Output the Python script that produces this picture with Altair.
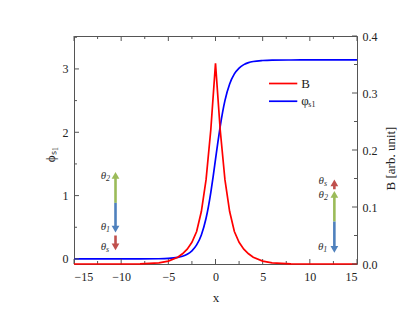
import altair as alt
import pandas as pd

# ---- data ----
x_phi = [-15, -10, -8, -6, -5, -4, -3.5, -3, -2.5, -2, -1.5, -1, -0.75, -0.5, -0.25, 0,
         0.25, 0.5, 0.75, 1, 1.5, 2, 2.5, 3, 3.5, 4, 5, 6, 8, 10, 15]
phi_vals = [0.0, 0.0, 0.0005, 0.003, 0.008, 0.025, 0.043, 0.074, 0.128, 0.221, 0.379, 0.642,
            0.826, 1.048, 1.300, 1.571, 1.842, 2.094, 2.315, 2.499, 2.762, 2.921, 3.014,
            3.068, 3.099, 3.117, 3.133, 3.139, 3.141, 3.1416, 3.1416]

x_b = [-15, -10, -8, -6, -5, -4, -3.5, -3, -2.5, -2, -1.5, -1, -0.5, 0,
       0.5, 1, 1.5, 2, 2.5, 3, 3.5, 4, 5, 6, 8, 10, 15]
b_vals = [0.0, 0.0, 0.0003, 0.002, 0.005, 0.012, 0.018, 0.026, 0.038, 0.057, 0.092, 0.148, 0.235, 0.352,
          0.235, 0.148, 0.092, 0.057, 0.038, 0.026, 0.018, 0.012, 0.005, 0.002, 0.0003, 0.0, 0.0]

x_major = [-15, -10, -5, 0, 5, 10, 15]
x_minor = [-12.5, -7.5, -2.5, 2.5, 7.5, 12.5]
phi_major = [0, 1, 2, 3]
phi_minor = [0.5, 1.5, 2.5, 3.5]
b_major = [0.0, 0.1, 0.2, 0.3, 0.4]
b_minor = [0.05, 0.15, 0.25, 0.35]

# arrows (in x / phi units)
arrow_x = [-10.6, -10.6, -10.6, 12.6, 12.6, 12.6]
arrow_from = [0.885, 0.885, 0.37, 1.10, 0.59, 0.59]
arrow_to = [1.38, 0.41, 0.13, 1.26, 1.08, 0.09]
arrow_col = ["#9bbb59", "#4f81bd", "#c0504d", "#c0504d", "#9bbb59", "#4f81bd"]

# theta labels
lab_x = [-11.6, -11.6, -11.6, 11.5, 11.5, 11.43]
lab_y = [1.31, 0.50, 0.19, 1.23, 1.01, 0.19]
lab_sub = ["2", "1", "s", "s", "2", "1"]

# legend
leg_main = ["B", "φ"]
leg_sub = ["", "s1"]
leg_y = [2.77, 2.49]
leg_x0, leg_x1, leg_tx = 5.67, 8.67, 9.1
leg_col = ["#ff0000", "#0000ff"]

W, H = 283, 228
FONT = "Liberation Serif"

xs = alt.Scale(domain=[-15, 15], nice=False, zero=False)
ps = alt.Scale(domain=[-0.08, 3.52], nice=False, zero=False)
bs = alt.Scale(domain=[0, 0.4], nice=False, zero=False)

common = dict(domain=False, ticks=False, grid=False,
              labelFont=FONT, labelFontSize=12, labelColor="#222",
              titleFont=FONT, titleFontSize=13, titleFontWeight="normal", titleColor="#222")

x_axis = alt.Axis(values=x_major, title="x", labelPadding=7, titleY=33, titleX=W / 2,
                  titleBaseline="middle", format="d", **common)
p_axis = alt.Axis(values=phi_major, title="ϕₛ₁", orient="left", labelPadding=6, format="d",
                  titleAngle=270, titleX=-24, titleY=118, titleBaseline="middle", **common)
b_axis = alt.Axis(values=b_major, title="B [arb. unit]", orient="right", labelPadding=5,
                  format=".1f", titleAngle=270, titleX=33, titleY=122, titleBaseline="middle", **common)

X = lambda f="x": alt.X(f + ":Q", scale=xs, axis=x_axis)
P = lambda f="p": alt.Y(f + ":Q", scale=ps, axis=p_axis)
Bq = lambda f="b": alt.Y(f + ":Q", scale=bs, axis=b_axis)

df_phi = pd.DataFrame({"x": x_phi, "p": phi_vals})
df_b = pd.DataFrame({"x": x_b, "b": b_vals})

blue = alt.Chart(df_phi).mark_line(color="#0000ff", strokeWidth=1.7, interpolate="monotone").encode(x=X(), y=P())
red = alt.Chart(df_b).mark_line(color="#ff0000", strokeWidth=1.7).encode(x=X(), y=Bq())

# inward ticks
tick_col = "#555"
xt_bot_maj = alt.Chart(pd.DataFrame({"x": x_major})).mark_rule(color=tick_col).encode(
    x=X(), y=alt.value(H), y2=alt.value(H - 5))
xt_bot_min = alt.Chart(pd.DataFrame({"x": x_minor})).mark_rule(color=tick_col).encode(
    x=X(), y=alt.value(H), y2=alt.value(H - 3))
xt_top_maj = alt.Chart(pd.DataFrame({"x": x_major})).mark_rule(color=tick_col).encode(
    x=X(), y=alt.value(0), y2=alt.value(5))
xt_top_min = alt.Chart(pd.DataFrame({"x": x_minor})).mark_rule(color=tick_col).encode(
    x=X(), y=alt.value(0), y2=alt.value(3))
pt_maj = alt.Chart(pd.DataFrame({"p": phi_major})).mark_rule(color=tick_col).encode(
    y=P(), x=alt.value(0), x2=alt.value(5))
pt_min = alt.Chart(pd.DataFrame({"p": phi_minor})).mark_rule(color=tick_col).encode(
    y=P(), x=alt.value(0), x2=alt.value(3))
bt_maj = alt.Chart(pd.DataFrame({"b": b_major})).mark_rule(color=tick_col).encode(
    y=Bq(), x=alt.value(W - 5), x2=alt.value(W))
bt_min = alt.Chart(pd.DataFrame({"b": b_minor})).mark_rule(color=tick_col).encode(
    y=Bq(), x=alt.value(W - 3), x2=alt.value(W))

# arrows
head_off = 0.06
df_ar = pd.DataFrame({
    "x": arrow_x,
    "p": arrow_from,
    "tip": arrow_to,
    "c": arrow_col,
})
df_ar["hy"] = [t - head_off if t > f else t + head_off for f, t in zip(arrow_from, arrow_to)]
df_ar["shape"] = ["triangle-up" if t > f else "triangle-down" for f, t in zip(arrow_from, arrow_to)]
shafts = alt.Chart(df_ar).mark_rule(strokeWidth=2.6).encode(
    x=X(), y=P(), y2=alt.Y2("hy:Q"), color=alt.Color("c:N", scale=None))
heads = alt.Chart(df_ar).mark_point(filled=True, size=60, opacity=1).encode(
    x=X(), y=P("hy"), color=alt.Color("c:N", scale=None), shape=alt.Shape("shape:N", scale=None))

df_lab = pd.DataFrame({"x": lab_x, "p": lab_y, "s": lab_sub, "t": ["θ"] * len(lab_x)})
lab_main = alt.Chart(df_lab).mark_text(font=FONT, fontStyle="italic", fontSize=11, align="right",
                                       baseline="middle", color="#333").encode(x=X(), y=P(), text="t:N")
lab_s = alt.Chart(df_lab).mark_text(font=FONT, fontStyle="italic", fontSize=8, align="left",
                                    baseline="middle", dy=3, color="#333").encode(x=X(), y=P(), text="s:N")

# legend (drawn in data coordinates)
df_leg = pd.DataFrame({"x": [leg_x0] * 2, "x2": [leg_x1] * 2, "p": leg_y, "c": leg_col,
                       "tx": [leg_tx] * 2, "m": leg_main, "s": leg_sub})
leg_lines = alt.Chart(df_leg).mark_rule(strokeWidth=1.7).encode(
    x=X(), x2="x2:Q", y=P(), color=alt.Color("c:N", scale=None))
leg_text = alt.Chart(df_leg).mark_text(font=FONT, fontSize=13, align="left", baseline="middle",
                                       color="#222").encode(x=X("tx"), y=P(), text="m:N")
leg_subt = alt.Chart(df_leg).mark_text(font=FONT, fontSize=8, align="left", baseline="middle",
                                       dx=7, dy=4, color="#222").encode(x=X("tx"), y=P(), text="s:N")

left = alt.layer(blue, pt_maj, pt_min, xt_bot_maj, xt_bot_min, xt_top_maj, xt_top_min,
                 shafts, heads, lab_main, lab_s, leg_lines, leg_text, leg_subt)
right = alt.layer(red, bt_maj, bt_min)

chart = alt.layer(left, right).resolve_scale(y="independent").properties(
    width=W, height=H,
    padding={"left": 66, "top": 28, "right": 50, "bottom": 47},
    autosize=alt.AutoSizeParams(type="none"),
    background="white",
).configure_view(stroke="#555", strokeWidth=1).configure_axis(**common)

chart.save("out.html", embed_options={"renderer": "svg", "actions": False})
